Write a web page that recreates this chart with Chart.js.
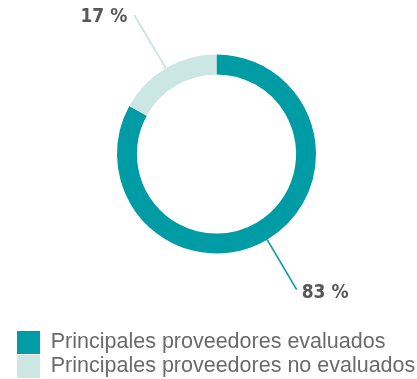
<!DOCTYPE html>
<html>
<head>
<meta charset="utf-8">
<script src="https://cdn.jsdelivr.net/npm/chart.js@4.4.1/dist/chart.umd.min.js"></script>
<style>
  html, body { margin: 0; padding: 0; background: #fff; }
  #wrap { width: 417px; height: 379px; position: relative; }
</style>
</head>
<body>
<div id="wrap"><canvas id="c"></canvas></div>
<script>
// Proveedores principales: porcentaje evaluado frente a no evaluado
const categories = ['Principales proveedores evaluados', 'Principales proveedores no evaluados'];
const shares = [83, 17];
const sliceColors = ['#009ca5', '#cce6e3'];
const leaderColors = ['#009ca5', '#c4e2df'];
const leaderLengths = [58, 62];

// Radial leader line from each slice's mid-angle with its percentage label
const leaderLabels = {
  id: 'leaderLabels',
  afterDatasetsDraw(chart, args, opts) {
    const ctx = chart.ctx;
    const meta = chart.getDatasetMeta(0);
    ctx.save();
    ctx.font = 'bold 19px "DejaVu Sans Condensed", "DejaVu Sans", sans-serif';
    ctx.fillStyle = '#575757';
    ctx.textBaseline = 'middle';
    meta.data.forEach((arc, i) => {
      const p = arc.getProps(['x', 'y', 'startAngle', 'endAngle', 'outerRadius'], true);
      const mid = (p.startAngle + p.endAngle) / 2;
      const r0 = p.outerRadius;
      const r1 = p.outerRadius + opts.lengths[i];
      const x0 = p.x + Math.cos(mid) * r0, y0 = p.y + Math.sin(mid) * r0;
      const x1 = p.x + Math.cos(mid) * r1, y1 = p.y + Math.sin(mid) * r1;
      ctx.strokeStyle = opts.colors[i];
      ctx.lineWidth = 1.6;
      ctx.beginPath();
      ctx.moveTo(x0, y0);
      ctx.lineTo(x1, y1);
      ctx.stroke();
      const text = chart.data.datasets[0].data[i] + ' %';
      const right = Math.cos(mid) >= 0;
      ctx.textAlign = right ? 'left' : 'right';
      ctx.fillText(text, right ? x1 + 5 : x1 - 7, y1 + (right ? 3.5 : 2.5));
    });
    ctx.restore();
  }
};

new Chart(document.getElementById('c'), {
  type: 'doughnut',
  data: {
    labels: categories,
    datasets: [{
      data: shares,
      backgroundColor: sliceColors,
      borderWidth: 0
    }]
  },
  options: {
    responsive: true,
    maintainAspectRatio: false,
    animation: false,
    radius: 99.5,
    cutout: '80%',
    layout: { padding: { left: 16, right: 0, top: 0, bottom: -9 } },
    plugins: {
      tooltip: { enabled: false },
      legend: {
        position: 'bottom',
        align: 'start',
        title: {
          display: true,
          text: '',
          color: 'rgba(0,0,0,0)',
          font: { size: 10, lineHeight: 1.2 },
          padding: { top: 5, bottom: 5 }
        },
        labels: {
          boxWidth: 23,
          boxHeight: 23,
          padding: 1,
          color: '#6a6a6a',
          font: { family: '"Liberation Sans", Arial, sans-serif', size: 21.5 }
        }
      },
      leaderLabels: { lengths: leaderLengths, colors: leaderColors }
    },
    events: []
  },
  plugins: [leaderLabels]
});
</script>
</body>
</html>
